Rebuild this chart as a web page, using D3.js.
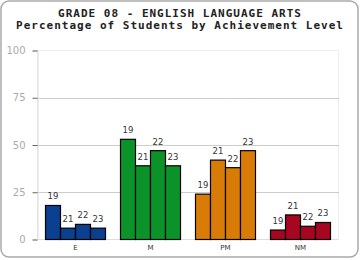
<!DOCTYPE html>
<html>
<head>
<meta charset="utf-8">
<script src="https://cdn.jsdelivr.net/npm/d3@7"></script>
<style>
  html, body { margin: 0; padding: 0; background: #fff; }
  svg { display: block; }
</style>
</head>
<body>
<svg id="chart" width="360" height="260"></svg>
<script>
// chart data
const levels = ['E', 'M', 'PM', 'NM'];
const years = ['19', '21', '22', '23'];
const pctE = [18, 6, 8, 6];
const pctM = [53, 39, 47, 39];
const pctPM = [24, 42, 38, 47];
const pctNM = [5, 13, 7, 9];
const yTicks = [0, 25, 50, 75, 100];
const titleLines = ['GRADE 08 - ENGLISH LANGUAGE ARTS', 'Percentage of Students by Achievement Level'];

const levelColors = ['#0b3f8f', '#0b9228', '#d97c07', '#a6061f'];
const values = [pctE, pctM, pctPM, pctNM];

const width = 360;
const height = 260;
const plot = { left: 37.5, right: 338.5, top: 50.5, bottom: 239.5 };

const svg = d3.select('#chart');

// outer frame
svg.append('rect')
  .attr('x', 1).attr('y', 1)
  .attr('width', 357).attr('height', 256)
  .attr('rx', 8).attr('ry', 8)
  .style('fill', '#fff')
  .style('stroke', '#aaa')
  .style('stroke-width', 1.5);

// title
svg.append('g')
  .selectAll('text')
  .data(titleLines)
  .enter()
  .append('text')
  .attr('x', width / 2)
  .attr('y', (d, i) => 17 + i * 12)
  .attr('text-anchor', 'middle')
  .style('font-family', '"DejaVu Sans Mono", monospace')
  .style('font-weight', 'bold')
  .style('font-size', '11px')
  .style('letter-spacing', '1px')
  .style('fill', '#222')
  .text((d) => d);

const x0 = d3.scaleBand()
  .domain(levels)
  .range([plot.left + 0.5, plot.right - 0.5])
  .paddingInner(0.2)
  .paddingOuter(0.1);

const x1 = d3.scaleBand()
  .domain(years)
  .range([0, x0.bandwidth()]);

const y = d3.scaleLinear()
  .domain([0, 100])
  .range([plot.bottom, plot.top]);

// plot frame
svg.append('rect')
  .attr('x', plot.left).attr('y', plot.top)
  .attr('width', plot.right - plot.left)
  .attr('height', plot.bottom - plot.top)
  .style('fill', 'none')
  .style('stroke', '#eee');

// dotted grid
svg.append('g')
  .selectAll('line')
  .data(yTicks.filter((t) => t > 0 && t < 100))
  .enter()
  .append('line')
  .attr('x1', plot.left).attr('x2', plot.right)
  .attr('y1', (d) => Math.round(y(d)) + 0.5)
  .attr('y2', (d) => Math.round(y(d)) + 0.5)
  .style('stroke', '#999')
  .style('stroke-dasharray', '1,1');

// y axis
const yAxis = svg.append('g')
  .attr('transform', `translate(${plot.left},0)`)
  .call(d3.axisLeft(y).tickValues(yTicks).tickSize(5).tickPadding(7));

yAxis.select('.domain').style('stroke', '#ddd');
yAxis.selectAll('.tick line').style('stroke', '#666');
yAxis.selectAll('.tick text')
  .style('font-family', '"DejaVu Sans", sans-serif')
  .style('font-size', '10px')
  .style('fill', '#aaa');

// bottom line
svg.append('line')
  .attr('x1', plot.left).attr('x2', plot.right)
  .attr('y1', plot.bottom).attr('y2', plot.bottom)
  .style('stroke', '#ddd');

// bars
const groups = svg.append('g')
  .selectAll('g')
  .data(levels)
  .enter()
  .append('g')
  .attr('transform', (d) => `translate(${x0(d)},0)`);

const bars = groups.selectAll('g')
  .data((d, i) => years.map((yr, j) => ({ year: yr, value: values[i][j], color: levelColors[i] })))
  .enter()
  .append('g');

bars.append('rect')
  .attr('x', (d) => x1(d.year))
  .attr('y', (d) => y(d.value))
  .attr('width', x1.bandwidth())
  .attr('height', (d) => y(0) - y(d.value))
  .style('fill', (d) => d.color)
  .style('stroke', '#000')
  .style('stroke-width', 1.2);

bars.append('text')
  .attr('x', (d) => x1(d.year) + x1.bandwidth() / 2)
  .attr('y', (d) => y(d.value) - 6)
  .attr('text-anchor', 'middle')
  .style('font-family', '"DejaVu Sans", sans-serif')
  .style('font-size', '8.5px')
  .style('fill', '#333')
  .text((d) => d.year);

// category labels
svg.append('g')
  .selectAll('text')
  .data(levels)
  .enter()
  .append('text')
  .attr('x', (d) => x0(d) + x0.bandwidth() / 2)
  .attr('y', 250)
  .attr('text-anchor', 'middle')
  .style('font-family', '"DejaVu Sans", sans-serif')
  .style('font-size', '7px')
  .style('fill', '#333')
  .text((d) => d);
</script>
</body>
</html>
